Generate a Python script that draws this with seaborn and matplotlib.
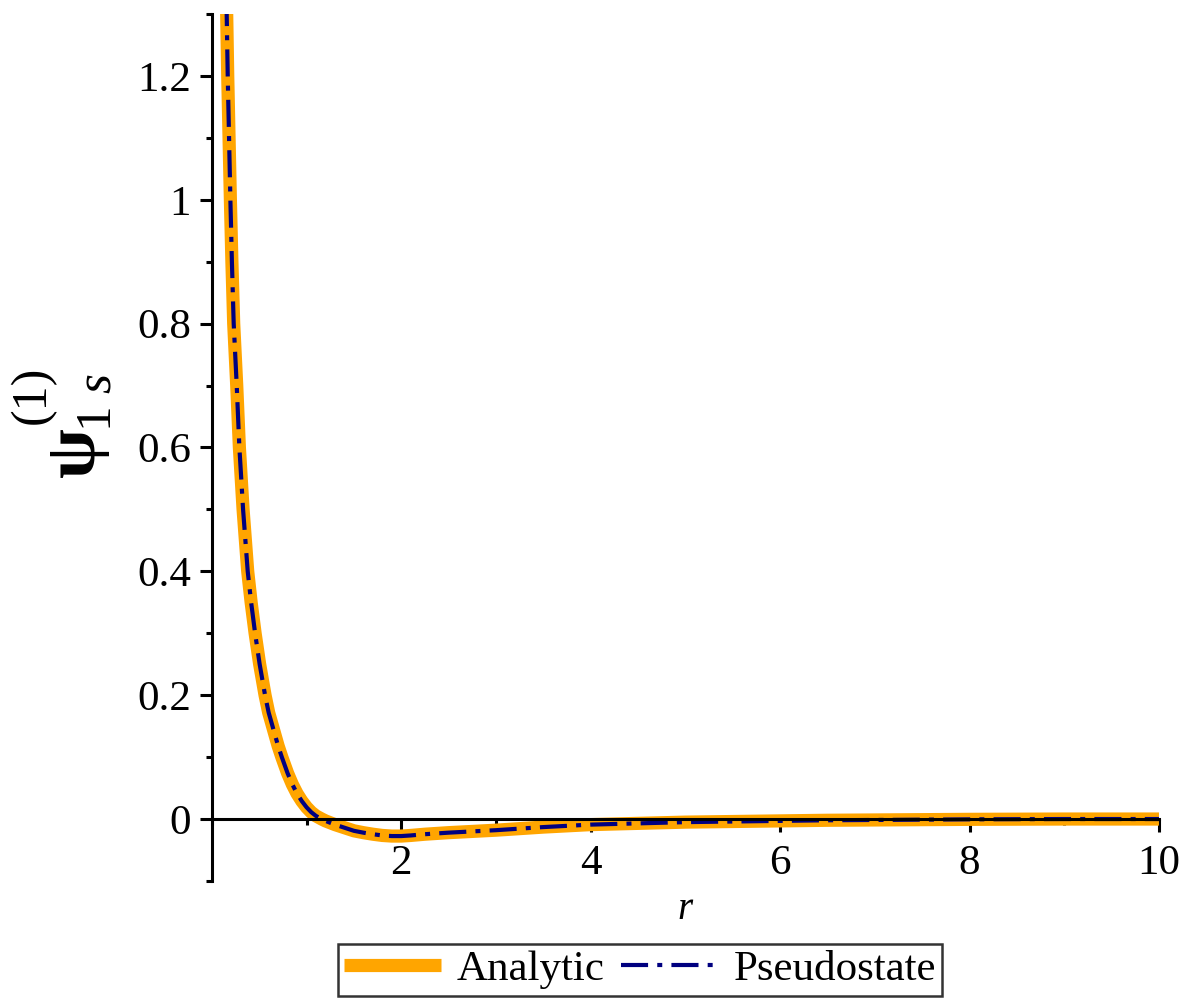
import numpy as np
import pandas as pd
import matplotlib
matplotlib.use("Agg")
import matplotlib.pyplot as plt
import seaborn as sns
from matplotlib.ticker import MultipleLocator, FuncFormatter

# ---- data ----
r_vals = [0.150, 0.157, 0.168, 0.182, 0.196, 0.212, 0.231, 0.247, 0.263, 0.291, 0.330,
          0.379, 0.415, 0.457, 0.505, 0.562, 0.600, 0.650, 0.700, 0.739, 0.800,
          0.850, 0.900, 0.950, 1.000, 1.050, 1.100, 1.160, 1.200, 1.300, 1.400,
          1.500, 1.600, 1.700, 1.800, 1.900, 2.000, 2.100, 2.250, 2.500, 2.750,
          3.000, 3.250, 3.500, 3.750, 4.000, 4.500, 5.000, 5.500, 6.000, 6.500,
          7.000, 7.500, 8.000, 9.000, 10.000]
analytic = [1.36, 1.30, 1.20, 1.10, 1.00, 0.90, 0.80, 0.75, 0.70, 0.60, 0.50,
            0.40, 0.35, 0.30, 0.25, 0.20, 0.172, 0.145, 0.118, 0.10, 0.074,
            0.056, 0.041, 0.029, 0.019, 0.011, 0.005, 0.0, -0.003, -0.009, -0.014,
            -0.019, -0.022, -0.0245, -0.0265, -0.0275, -0.0275, -0.0265, -0.0245, -0.022, -0.020,
            -0.018, -0.0155, -0.013, -0.011, -0.009, -0.007, -0.005, -0.004, -0.003, -0.002,
            -0.0015, -0.001, -0.0005, 0.0, 0.0]
pseudostate = [1.36, 1.30, 1.20, 1.10, 1.00, 0.90, 0.80, 0.75, 0.70, 0.60, 0.50,
               0.40, 0.35, 0.30, 0.25, 0.20, 0.172, 0.145, 0.118, 0.10, 0.074,
               0.056, 0.041, 0.029, 0.019, 0.011, 0.005, 0.0, -0.003, -0.009, -0.014,
               -0.019, -0.022, -0.0245, -0.0265, -0.0275, -0.0275, -0.0265, -0.0245, -0.022, -0.020,
               -0.018, -0.0155, -0.013, -0.011, -0.009, -0.007, -0.005, -0.004, -0.003, -0.002,
               -0.0015, -0.001, -0.0005, 0.0, 0.0]
series_names = ["Analytic", "Pseudostate"]
x_major_ticks = [2, 4, 6, 8, 10]
y_major_ticks = [0, 0.2, 0.4, 0.6, 0.8, 1.0, 1.2]

df = pd.DataFrame({
    "r": r_vals * 2,
    "psi": analytic + pseudostate,
    "series": [series_names[0]] * len(r_vals) + [series_names[1]] * len(r_vals),
})

sns.set_theme(style="white")
plt.rcParams["font.family"] = ["Liberation Serif", "DejaVu Serif"]
plt.rcParams["mathtext.fontset"] = "custom"
plt.rcParams["mathtext.rm"] = "Liberation Serif"
plt.rcParams["mathtext.it"] = "Liberation Serif:italic"
plt.rcParams["mathtext.bf"] = "Liberation Serif:bold"
for k in ["text.color", "axes.labelcolor", "xtick.color", "ytick.color"]:
    plt.rcParams[k] = "black"

fig = plt.figure(figsize=(11.92, 10.02), dpi=100)
ax = fig.add_axes([0.1777, 0.1208, 0.7946, 0.8652])

orange = "#FFA500"
navy = "#000080"

sns.lineplot(data=df[df.series == "Analytic"], x="r", y="psi", ax=ax,
             color=orange, linewidth=9.5, label="Analytic", sort=False,
             solid_capstyle="butt", solid_joinstyle="round")
sns.lineplot(data=df[df.series == "Pseudostate"], x="r", y="psi", ax=ax,
             color=navy, linewidth=3.0, label="Pseudostate", sort=False,
             linestyle=(0, (6.5, 2.2, 1.2, 2.2)))

ax.set_xlim(0, 10)
ax.set_ylim(-0.1, 1.3)

for s in ["top", "right"]:
    ax.spines[s].set_visible(False)
ax.spines["bottom"].set_position(("data", 0))
ax.spines["left"].set_position(("data", 0))
for s in ["bottom", "left"]:
    ax.spines[s].set_linewidth(2.2)
    ax.spines[s].set_color("black")

ax.set_xticks(x_major_ticks)
ax.set_yticks(y_major_ticks)
ax.xaxis.set_minor_locator(MultipleLocator(1))
ax.yaxis.set_minor_locator(MultipleLocator(0.1))
ax.yaxis.set_major_formatter(FuncFormatter(lambda v, p: f"{v:g}"))
ax.tick_params(axis="both", which="major", direction="out", length=9, width=2.2,
               labelsize=31, pad=6, colors="black", bottom=True, left=True)
ax.tick_params(axis="both", which="minor", direction="out", length=4.5, width=2.2,
               colors="black", bottom=True, left=True)
ax.tick_params(axis="x", which="major", pad=9)

ax.set_xlabel("r", fontsize=28, style="italic")
ax.xaxis.set_label_coords(0.5, -0.012)
ax.set_ylabel("")

# y-axis label built from pieces: bold psi, superscript (1), subscript 1 s
W, H = 1192.0, 1002.0
fig.text(76 / W, 1 - 452 / H, "\u03c8", fontsize=52, fontweight="bold",
         rotation=90, ha="center", va="center")
fig.text(33 / W, 1 - 395 / H, "(1)", fontsize=36,
         rotation=90, ha="center", va="center")
fig.text(98 / W, 1 - 403 / H, r"$1\ \mathit{s}$", fontsize=37,
         rotation=90, ha="center", va="center")

ax.get_legend().remove()
h, l = ax.get_legend_handles_labels()
leg = fig.legend(h, l, loc="upper center", bbox_to_anchor=(0.537, 0.058),
                 ncol=2, fontsize=31, frameon=True, fancybox=False,
                 handlelength=2.25, handletextpad=0.35, columnspacing=0.4,
                 borderpad=0.15, borderaxespad=0)
leg.get_frame().set_edgecolor("black")
leg.get_frame().set_linewidth(1.8)
for t in leg.get_texts():
    t.set_color("black")

fig.savefig("out.png", dpi=100, facecolor="white")
